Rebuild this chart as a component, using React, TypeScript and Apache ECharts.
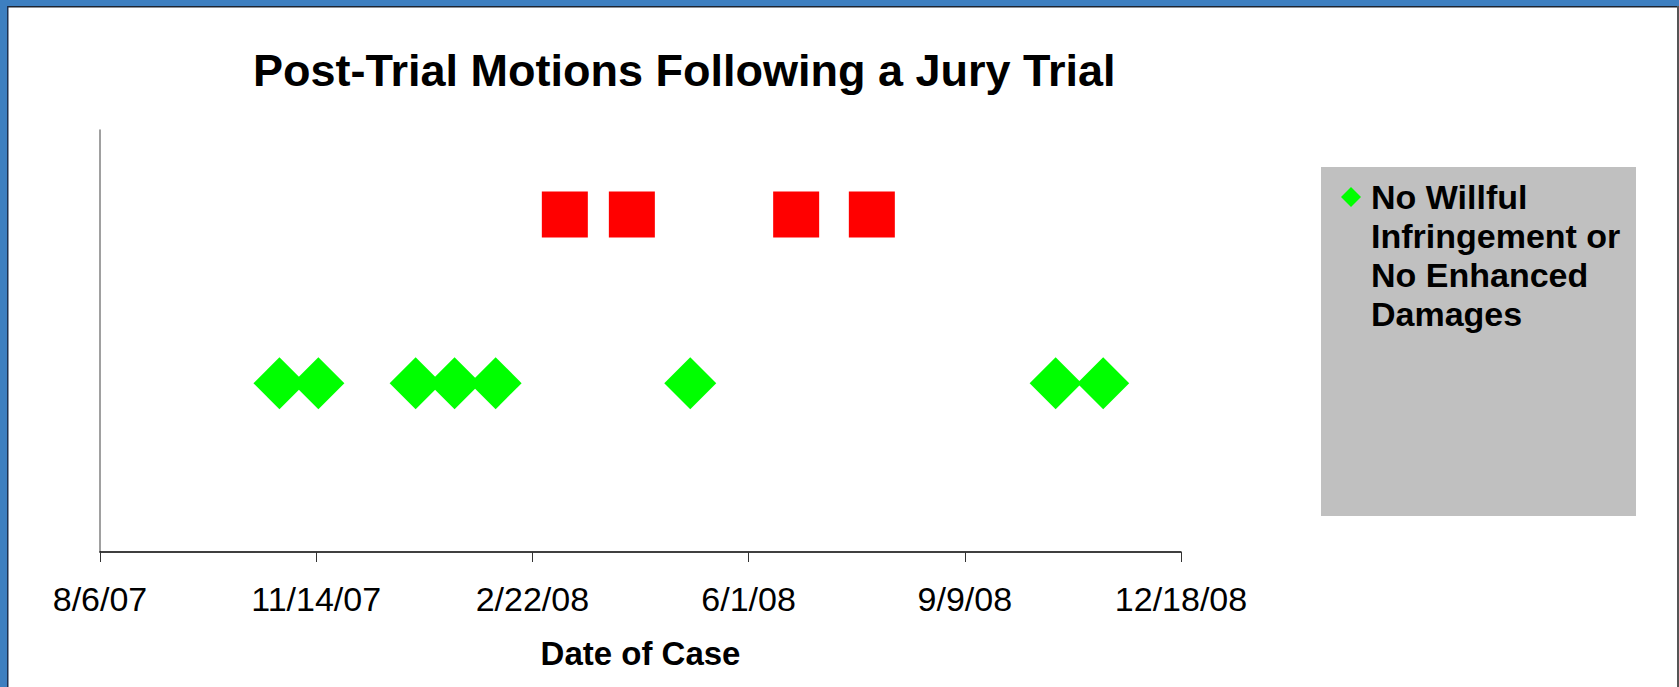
import React, { useEffect, useRef } from 'react';
import * as echarts from 'echarts';

// ---- data ----
const axisStartDate = '2007-08-06';
const axisEndDate = '2008-12-18';
const tickStepDays = 100;

const noWillfulDates = [
  '2007-10-28', '2007-11-15', '2007-12-30', '2008-01-17',
  '2008-02-05', '2008-05-05', '2008-10-21', '2008-11-12',
];
const willfulDates = ['2008-03-08', '2008-04-08', '2008-06-23', '2008-07-28'];

const noWillfulLevel = 1;
const willfulLevel = 2;
const yMin = 0;
const yMax = 2.5;

const seriesNames = [
  'No Willful Infringement or No Enhanced Damages',
  'Willful Infringement or Enhanced Damages',
];
const legendLines = ['No Willful', 'Infringement or', 'No Enhanced', 'Damages'];
const chartTitle = 'Post-Trial Motions Following a Jury Trial';
const xAxisTitle = 'Date of Case';

// ---- helpers ----
const DAY = 86400000;
const toUTC = (s: string) => {
  const [y, m, d] = s.split('-').map(Number);
  return Date.UTC(y, m - 1, d);
};
const startMs = toUTC(axisStartDate);
const dayOffset = (s: string) => Math.round((toUTC(s) - startMs) / DAY);
const fmtDay = (v: number) => {
  const d = new Date(startMs + v * DAY);
  return `${d.getUTCMonth() + 1}/${d.getUTCDate()}/${String(d.getUTCFullYear()).slice(2)}`;
};

const FONT = '"Liberation Sans", Arial, Helvetica, sans-serif';
const LEGEND_LH = 39;

export default function App() {
  const ref = useRef<HTMLDivElement>(null);

  useEffect(() => {
    document.body.style.margin = '0';
    if (!ref.current) return;
    const chart = echarts.init(ref.current, undefined, { renderer: 'svg' });
    // leading blank lines so that the first text line sits level with the icon
    const legendText =
      '\n'.repeat(legendLines.length - 1) + legendLines.join('\n');
    const option: any = {
      animation: false,
      backgroundColor: '#ffffff',
      title: {
        text: chartTitle,
        left: 248,
        top: 43,
        textStyle: { fontFamily: FONT, fontWeight: 'bold', fontSize: 45, color: '#000' },
      },
      legend: {
        data: [seriesNames[0]],
        left: 1341,
        top: 197 - (legendLines.length * 2 - 1) * LEGEND_LH / 2,
        padding: 0,
        itemWidth: 20,
        itemHeight: 20,
        formatter: () => legendText,
        textStyle: {
          fontFamily: FONT,
          fontWeight: 'bold',
          fontSize: 34,
          lineHeight: LEGEND_LH,
          color: '#000',
          padding: [0, 0, 0, 5],
        },
      },
      grid: { left: 100, right: 498, top: 130, bottom: 135, containLabel: false },
      xAxis: {
        type: 'value',
        min: 0,
        max: dayOffset(axisEndDate),
        interval: tickStepDays,
        name: xAxisTitle,
        nameLocation: 'middle',
        nameGap: 85,
        nameTextStyle: { fontFamily: FONT, fontWeight: 'bold', fontSize: 33, color: '#000' },
        axisLine: { show: true, lineStyle: { color: '#000', width: 1.5 } },
        axisTick: { show: true, length: 10, lineStyle: { color: '#333', width: 1 } },
        axisLabel: {
          formatter: fmtDay,
          margin: 29.5,
          fontFamily: FONT,
          fontSize: 34,
          color: '#000',
        },
        splitLine: { show: false },
      },
      yAxis: {
        type: 'value',
        min: yMin,
        max: yMax,
        axisLine: { show: true, lineStyle: { color: '#808080', width: 1.5 } },
        axisTick: { show: false },
        axisLabel: { show: false },
        splitLine: { show: false },
      },
      series: [
        {
          name: seriesNames[0],
          type: 'scatter',
          symbol: 'diamond',
          symbolSize: 52,
          itemStyle: { color: '#00ff00', opacity: 1 },
          data: noWillfulDates.map((d) => [dayOffset(d), noWillfulLevel]),
        },
        {
          name: seriesNames[1],
          type: 'scatter',
          symbol: 'rect',
          symbolSize: 46,
          itemStyle: { color: '#ff0000', opacity: 1 },
          data: willfulDates.map((d) => [dayOffset(d), willfulLevel]),
        },
      ],
      graphic: [
        { type: 'rect', z: -10, shape: { x: 1321, y: 167, width: 315, height: 349 }, style: { fill: '#c0c0c0' } },
        { type: 'rect', z: 10, shape: { x: 0, y: 0, width: 1679, height: 6 }, style: { fill: '#3d7fc0' } },
        { type: 'rect', z: 10, shape: { x: 7, y: 6, width: 1672, height: 1.5 }, style: { fill: '#1c2430' } },
        { type: 'rect', z: 10, shape: { x: 0, y: 0, width: 7, height: 687 }, style: { fill: '#3d7fc0' } },
        { type: 'rect', z: 10, shape: { x: 7, y: 6, width: 1.5, height: 681 }, style: { fill: '#1c3050' } },
        { type: 'rect', z: 10, shape: { x: 1677, y: 6, width: 2, height: 681 }, style: { fill: '#555555' } },
      ],
    };
    chart.setOption(option);
    return () => chart.dispose();
  }, []);

  return (
    <div
      ref={ref}
      style={{ position: 'absolute', left: 0, top: 0, width: 1679, height: 687 }}
    />
  );
}
